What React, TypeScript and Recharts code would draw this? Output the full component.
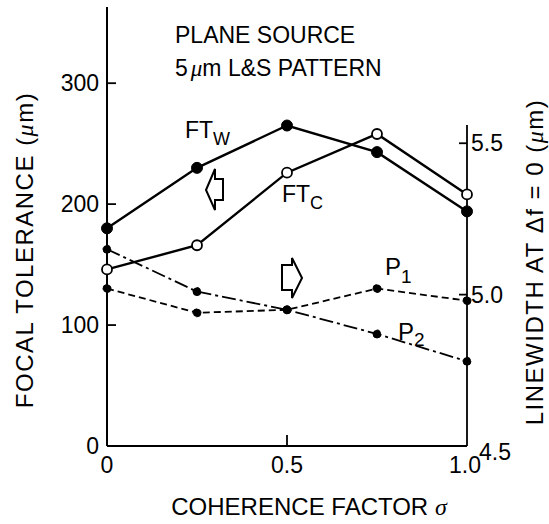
import React from "react";
import { LineChart, Line, XAxis, YAxis, ReferenceLine } from "recharts";

// coherence factor sigma on the x axis
const sigma = [0, 0.25, 0.5, 0.75, 1.0];
// focal tolerance (um), left axis
const ftW = [180, 230, 265, 243, 194];
const ftC = [146, 166, 226, 258, 208];
// linewidth at df = 0 (um), right axis
const p1 = [5.02, 4.94, 4.95, 5.02, 4.98];
const p2 = [5.15, 5.01, 4.95, 4.87, 4.78];

const xTicks = [0, 0.5, 1.0];
const leftTicks = [0, 100, 200, 300];
const rightTicks = [4.5, 5.0, 5.5];

const data = sigma.map((s, i) => ({
  s,
  ftW: ftW[i],
  ftC: ftC[i],
  p1: p1[i],
  p2: p2[i],
}));

const W = 549;
const H = 524;
const PLOT_LEFT = 107;
const PLOT_RIGHT = 467;
const PLOT_TOP = 7;
const PLOT_BOTTOM = 446;

const SANS = "'Liberation Sans', Arial, Helvetica, sans-serif";
const SERIF = "'Liberation Serif', 'Times New Roman', serif";

const LeftTick = (props: any) => {
  const { y, payload } = props;
  return (
    <g>
      <line x1={PLOT_LEFT} x2={PLOT_LEFT + 9} y1={y} y2={y} stroke="#000" strokeWidth={1.8} />
      <text x={PLOT_LEFT - 8} y={y + 8} textAnchor="end" fontSize={23} fontFamily={SANS} fill="#000">
        {payload.value}
      </text>
    </g>
  );
};

const RightTick = (props: any) => {
  const { y, payload } = props;
  const low = payload.value === 4.5;
  return (
    <g>
      {!low && (
        <line x1={PLOT_RIGHT - 8} x2={PLOT_RIGHT} y1={y} y2={y} stroke="#000" strokeWidth={1.8} />
      )}
      <text
        x={PLOT_RIGHT + (low ? 12 : 4)}
        y={y + (low ? 14 : 8)}
        textAnchor="start"
        fontSize={23}
        fontFamily={SANS}
        fill="#000"
      >
        {payload.value.toFixed(1)}
      </text>
    </g>
  );
};

const BottomTick = (props: any) => {
  const { x, payload } = props;
  const v = payload.value;
  return (
    <g>
      {v > 0 && v < 1 && (
        <line x1={x} x2={x} y1={PLOT_BOTTOM} y2={PLOT_BOTTOM - 11} stroke="#000" strokeWidth={1.8} />
      )}
      <text x={x - (v === 1 ? 2 : 0)} y={PLOT_BOTTOM + 27} textAnchor="middle" fontSize={23} fontFamily={SANS} fill="#000">
        {v === 0 ? "0" : v.toFixed(1)}
      </text>
    </g>
  );
};

export default function App() {
  return (
    <div style={{ position: "absolute", left: 0, top: 0, width: W, height: H, background: "#fff" }}>
      <LineChart
        width={W}
        height={H}
        data={data}
        margin={{ top: PLOT_TOP, right: 0, bottom: H - PLOT_BOTTOM - 30, left: 0 }}
      >
        <XAxis
          dataKey="s"
          type="number"
          domain={[0, 1]}
          ticks={xTicks}
          height={30}
          tickLine={false}
          tick={<BottomTick />}
          axisLine={{ stroke: "#000", strokeWidth: 1.8 }}
        />
        <YAxis
          yAxisId="left"
          orientation="left"
          width={PLOT_LEFT}
          domain={[0, 363]}
          ticks={leftTicks}
          tickLine={false}
          tick={<LeftTick />}
          axisLine={{ stroke: "#000", strokeWidth: 2 }}
        />
        <YAxis
          yAxisId="right"
          orientation="right"
          width={W - PLOT_RIGHT}
          domain={[4.5, 5.95]}
          ticks={rightTicks}
          tickLine={false}
          tick={<RightTick />}
          axisLine={false}
        />
        <ReferenceLine
          yAxisId="right"
          segment={[
            { x: 1, y: 4.5 },
            { x: 1, y: 5.56 },
          ]}
          stroke="#000"
          strokeWidth={1.8}
          ifOverflow="visible"
        />
        <Line
          yAxisId="right"
          dataKey="p1"
          stroke="#000"
          strokeWidth={1.8}
          strokeDasharray="7 4"
          dot={{ r: 4, fill: "#000", stroke: "#000", strokeWidth: 1 }}
          isAnimationActive={false}
        />
        <Line
          yAxisId="right"
          dataKey="p2"
          stroke="#000"
          strokeWidth={1.8}
          strokeDasharray="14 4 3 4"
          dot={{ r: 4, fill: "#000", stroke: "#000", strokeWidth: 1 }}
          isAnimationActive={false}
        />
        <Line
          yAxisId="left"
          dataKey="ftC"
          stroke="#000"
          strokeWidth={2.4}
          dot={{ r: 5, fill: "#fff", stroke: "#000", strokeWidth: 1.8 }}
          isAnimationActive={false}
        />
        <Line
          yAxisId="left"
          dataKey="ftW"
          stroke="#000"
          strokeWidth={2.4}
          dot={{ r: 5.5, fill: "#000", stroke: "#000", strokeWidth: 1 }}
          isAnimationActive={false}
        />

        {/* block arrows pointing to each series' axis */}
        <polygon
          points="206,190 215,169 215,179 223,179 223,200 215,200 215,210"
          fill="#fff"
          stroke="#000"
          strokeWidth={2}
          strokeLinejoin="miter"
        />
        <polygon
          points="302,278 292,258 292,265 282,265 282,290 292,290 292,298"
          fill="#fff"
          stroke="#000"
          strokeWidth={2}
          strokeLinejoin="miter"
        />

        <g fontFamily={SANS} fill="#000">
          <text x={175} y={43} fontSize={23}>PLANE SOURCE</text>
          <text x={175} y={76} fontSize={23}>
            5
            <tspan fontFamily={SERIF} fontStyle="italic" dx={3}>μ</tspan>
            <tspan>m L&amp;S PATTERN</tspan>
          </text>

          <text x={185} y={138} fontSize={23}>
            FT<tspan fontSize={18} dy={7}>W</tspan>
          </text>
          <text x={282} y={202} fontSize={23}>
            FT<tspan fontSize={18} dy={7}>C</tspan>
          </text>
          <text x={385} y={275} fontSize={24}>
            P<tspan fontSize={19} dy={8}>1</tspan>
          </text>
          <text x={398} y={340} fontSize={24}>
            P<tspan fontSize={19} dy={6}>2</tspan>
          </text>

          <text x={309} y={515} fontSize={24} textAnchor="middle">
            COHERENCE FACTOR{" "}
            <tspan fontFamily={SERIF} fontStyle="italic">σ</tspan>
          </text>
          <text x={33} y={250} fontSize={24} textAnchor="middle" letterSpacing={1.5} transform="rotate(-90 33 250)">
            FOCAL  TOLERANCE (<tspan fontFamily={SERIF} fontStyle="italic">μ</tspan>m)
          </text>
          <text x={543} y={262} fontSize={24} textAnchor="middle" letterSpacing={1.5} transform="rotate(-90 543 262)">
            LINEWIDTH AT Δf = 0 (<tspan fontFamily={SERIF} fontStyle="italic">μ</tspan>m)
          </text>
        </g>
      </LineChart>
    </div>
  );
}
